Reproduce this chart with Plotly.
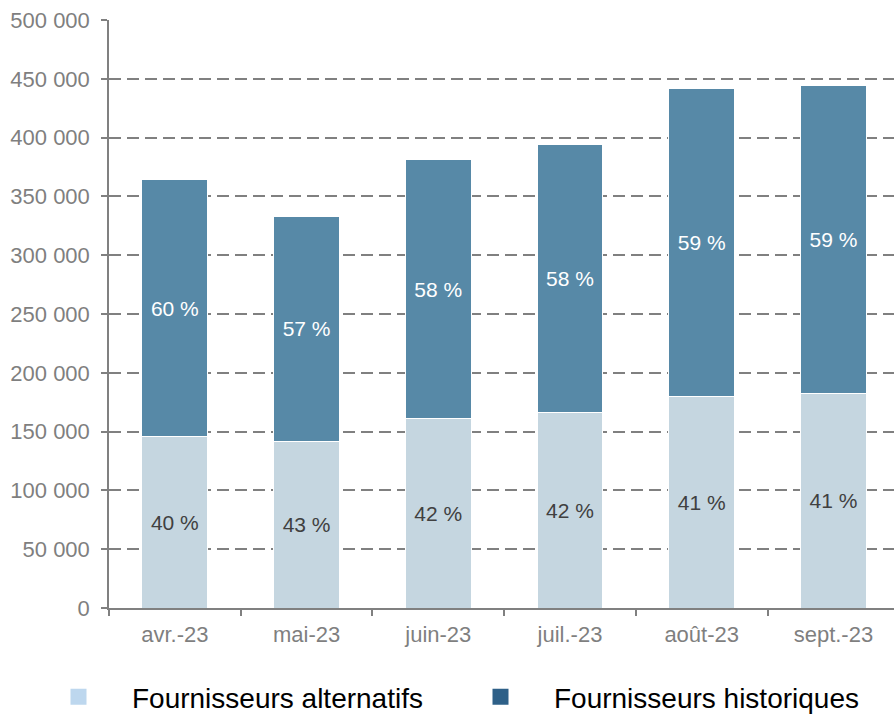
import plotly.graph_objects as go

months = ["avr.-23", "mai-23", "juin-23", "juil.-23", "août-23", "sept.-23"]
alternatifs = [146000, 142000, 161000, 166500, 180000, 182500]
historiques = [218000, 190500, 220000, 227500, 261500, 261500]
pct_alt = ["40 %", "43 %", "42 %", "42 %", "41 %", "41 %"]
pct_hist = ["60 %", "57 %", "58 %", "58 %", "59 %", "59 %"]
legend_names = ["Fournisseurs alternatifs", "Fournisseurs historiques"]

BAR_LIGHT = "#C5D6E0"
BAR_DARK = "#5789A7"
LEG_LIGHT = "#BDD7EE"
LEG_DARK = "#2E6088"
FONT = "Liberation Sans, Arial, sans-serif"
PAD = "\u00a0" * 4 + "\u200a"

fig = go.Figure()
fig.add_trace(go.Bar(
    x=months, y=alternatifs, text=pct_alt, textposition="inside",
    insidetextanchor="middle", textangle=0,
    textfont=dict(color="#404040", size=21, family=FONT),
    marker=dict(color=BAR_LIGHT, line=dict(color="white", width=1)),
    width=0.5, showlegend=False, hoverinfo="skip"))
fig.add_trace(go.Bar(
    x=months, y=historiques, text=pct_hist, textposition="inside",
    insidetextanchor="middle", textangle=0,
    textfont=dict(color="white", size=21, family=FONT),
    marker=dict(color=BAR_DARK, line=dict(color="white", width=1)),
    width=0.5, showlegend=False, hoverinfo="skip"))
for name, col, lg in zip(legend_names, [LEG_LIGHT, LEG_DARK], ["legend", "legend2"]):
    fig.add_trace(go.Scatter(
        x=[None], y=[None], mode="markers", name=PAD + name, legend=lg,
        marker=dict(symbol="square", size=20, color=col)))

leg_common = dict(
    orientation="h", xanchor="left", y=-0.1514, yanchor="middle",
    font=dict(size=28, color="black", family=FONT),
    bgcolor="rgba(0,0,0,0)")

fig.update_layout(
    width=894, height=714,
    margin=dict(l=109, r=0, t=20, b=106, autoexpand=False),
    barmode="stack",
    plot_bgcolor="white", paper_bgcolor="white",
    separators=", ",
    font=dict(family=FONT),
    uniformtext=dict(minsize=21, mode="show"),
    legend=dict(x=(58.5 - 109) / 785, **leg_common),
    legend2=dict(x=(480.5 - 109) / 785, **leg_common),
    xaxis=dict(
        type="category", range=[-0.5, 5.46], tickson="boundaries",
        ticks="outside", ticklen=6, tickcolor="#808080", tickwidth=1.5,
        showline=True, linecolor="#808080", linewidth=1.5,
        showgrid=False, ticklabelstandoff=6,
        tickfont=dict(size=22, color="#7F7F7F", family=FONT)),
    yaxis=dict(
        range=[0, 500000], dtick=50000, tickformat=",d",
        ticks="outside", ticklen=6, tickcolor="#808080", tickwidth=1.5,
        showline=True, linecolor="#808080", linewidth=1.5,
        showgrid=True, gridcolor="#808080", gridwidth=1.5,
        griddash="12px,6px", zeroline=False, ticklabelstandoff=7,
        tickfont=dict(size=22, color="#7F7F7F", family=FONT)),
)

fig.write_html(
    "out.html",
    config={"displayModeBar": False},
    post_script="document.body.style.margin='0';document.body.style.overflow='hidden';")
